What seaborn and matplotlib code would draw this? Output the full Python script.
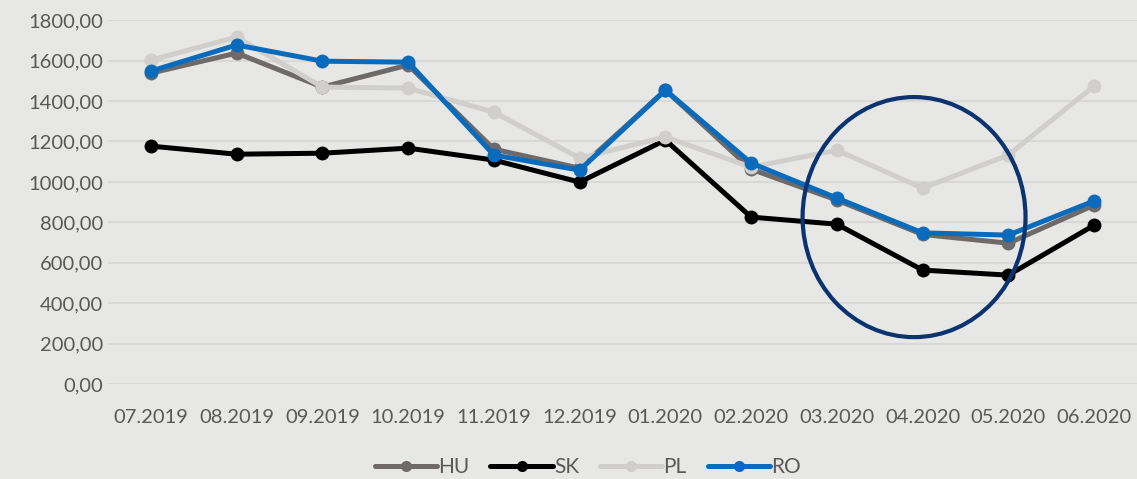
import pandas as pd
import numpy as np
import matplotlib
matplotlib.use("Agg")
import matplotlib.pyplot as plt
from matplotlib.patches import Ellipse
from matplotlib.ticker import FuncFormatter
import seaborn as sns

months = ["07.2019", "08.2019", "09.2019", "10.2019", "11.2019", "12.2019",
          "01.2020", "02.2020", "03.2020", "04.2020", "05.2020", "06.2020"]
hu = [1538, 1637, 1469, 1578, 1162, 1068, 1454, 1063, 910, 740, 697, 885]
sk = [1177, 1137, 1142, 1167, 1108, 999, 1207, 826, 791, 564, 539, 786]
pl = [1602, 1716, 1469, 1464, 1345, 1118, 1222, 1073, 1157, 969, 1133, 1474]
ro = [1548, 1677, 1597, 1592, 1133, 1058, 1454, 1093, 920, 748, 737, 906]

series = {"HU": hu, "SK": sk, "PL": pl, "RO": ro}
colors = {"HU": "#6e6a69", "SK": "#000000", "PL": "#d0cfcc", "RO": "#0a6bbd"}

df = pd.concat(
    [pd.DataFrame({"month": months, "value": v, "country": k}) for k, v in series.items()],
    ignore_index=True,
)

bg = "#e7e7e5"
sns.set_theme(style="white")
plt.rcParams["font.family"] = ["Lato", "DejaVu Sans"]

fig = plt.figure(figsize=(11.37, 4.79), dpi=100, facecolor=bg)
ax = fig.add_axes([0.095, 0.198, 0.905, 0.76], facecolor=bg)

for name in series:
    sub = df[df["country"] == name]
    sns.lineplot(data=sub, x="month", y="value", color=colors[name], lw=3.6,
                 marker="o", markersize=10, markeredgewidth=0, sort=False,
                 label=name, ax=ax)

# highlight circle around spring 2020
ax.add_patch(Ellipse((8.9, 826), width=2.6, height=1187, fill=False,
                     edgecolor="#0b3370", lw=3, zorder=5))

ax.set_ylim(0, 1800)
ax.set_xlim(-0.5, len(months) - 0.5)
ax.set_yticks(np.arange(0, 1801, 200))
ax.yaxis.set_major_formatter(FuncFormatter(lambda v, p: f"{v:.2f}".replace(".", ",")))
ax.grid(axis="y", color="#d8d8d6", lw=1.5)
ax.set_axisbelow(True)
for s in ax.spines.values():
    s.set_visible(False)
ax.tick_params(axis="both", length=0, colors="#595959", labelsize=14.5)
ax.tick_params(axis="x", pad=18)
ax.set_xlabel("")
ax.set_ylabel("")

ax.get_legend().remove()
handles, labels = ax.get_legend_handles_labels()
leg = fig.legend(handles, labels, loc="lower center", bbox_to_anchor=(0.517, -0.035),
                 ncol=4, frameon=False, fontsize=15, labelcolor="#595959",
                 handlelength=3.0, handletextpad=0.05, columnspacing=1.0)
for h in leg.legend_handles:
    h.set_markersize(8)

fig.savefig("out.png", dpi=100, facecolor=bg)
